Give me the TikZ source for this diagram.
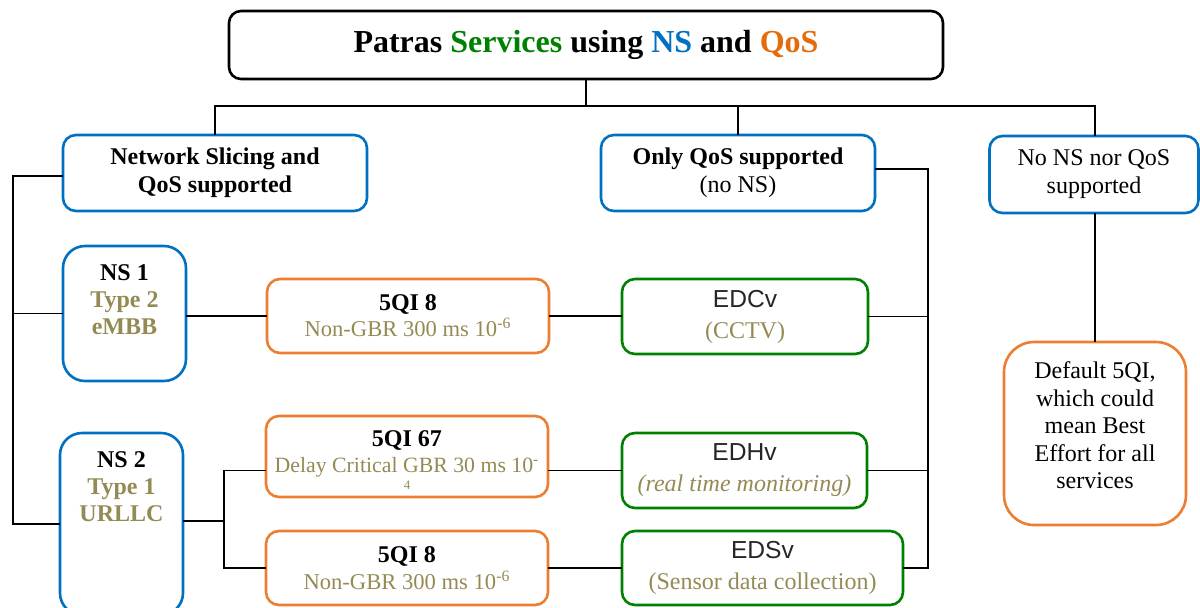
\documentclass[tikz,border=0pt]{standalone}
\usepackage{fontspec}
\setmainfont{Liberation Serif}
\setsansfont{Liberation Sans}
\definecolor{nsblue}{HTML}{0070C0}
\definecolor{qosorange}{HTML}{ED7D31}
\definecolor{qostext}{HTML}{E46C0A}
\definecolor{svcgreen}{HTML}{008000}
\definecolor{olive}{HTML}{948A54}
\definecolor{inkgray}{HTML}{262626}

\newcommand{\edname}[1]{{\sffamily\fontsize{12.3}{14}\selectfont\color{inkgray}#1}}

\begin{document}
\begin{tikzpicture}[x=0.5pt,y=-0.5pt,
  every node/.style={inner sep=0pt, outer sep=0pt},
  box/.style={draw, line width=1.3pt, rounded corners=6.5pt, align=center,
              font=\fontsize{12}{14}\selectfont},
  bluebox/.style={box, draw=nsblue},
  orangebox/.style={box, draw=qosorange},
  greenbox/.style={box, draw=svcgreen, font=\fontsize{12}{15.5}\selectfont},
  sz/.style 2 args={minimum width=#1*0.5pt, minimum height=#2*0.5pt},
  link/.style={draw=black, line width=0.9pt},
  nstext/.style={align=center, font=\fontsize{12}{13.5}\selectfont\bfseries}
]
\useasboundingbox (0,0) rectangle (1200,607);
\clip (0,0) rectangle (1200,607);

% title
\node[box, draw=black, sz={714}{68}, rounded corners=6pt,
      font=\fontsize{16}{20}\selectfont\bfseries] (title) at (586,45)
  {Patras \textcolor{svcgreen}{Services} using \textcolor{nsblue}{NS} and \textcolor{qostext}{QoS}};

% second level
\node[bluebox, sz={304}{76}] (nsqos) at (215,173)
  {\textbf{Network Slicing and}\\\textbf{QoS supported}};
\node[bluebox, sz={274}{76}] (onlyqos) at (738,173)
  {\textbf{Only QoS supported}\\(no NS)};
\node[bluebox, sz={209}{77}] (noqos) at (1094,174.5)
  {No NS nor QoS\\supported};

% network slices
\node[bluebox, sz={123}{135}, rounded corners=11pt] (ns1) at (124.5,313.5) {};
\node[nstext] (ns1txt) at (124.5,300)
  {NS 1\\\textcolor{olive}{Type 2}\\\textcolor{olive}{eMBB}};
\node[bluebox, sz={123}{182}, rounded corners=11pt] (ns2) at (121.5,524) {};
\node[nstext] (ns2txt) at (121.5,487)
  {NS 2\\\textcolor{olive}{Type 1}\\\textcolor{olive}{URLLC}};

% 5QI profiles
\node[orangebox, sz={282}{74}, font=\fontsize{12}{13}\selectfont] (qa) at (408,316)
  {\textbf{5QI 8}\\\fontsize{11.3}{13}\selectfont\textcolor{olive}{Non-GBR 300 ms 10\textsuperscript{-6}}};
\node[orangebox, sz={282}{81}] (qb) at (407,456.5) {};
\node[align=center, font=\fontsize{12}{13}\selectfont] (qbtxt) at (407,460)
  {\textbf{5QI 67}\\\fontsize{10.9}{13}\selectfont\textcolor{olive}{Delay Critical GBR 30 ms 10\textsuperscript{-}}\\[-4.5pt]
   \fontsize{6.5}{7}\selectfont\textcolor{olive}{4}};
\node[orangebox, sz={282}{74}, font=\fontsize{12}{13.5}\selectfont] (qc) at (407,568)
  {\textbf{5QI 8}\\\fontsize{11.3}{13.5}\selectfont\textcolor{olive}{Non-GBR 300 ms 10\textsuperscript{-6}}};

% services
\node[greenbox, sz={246}{75}] (edc) at (745,316.5)
  {\edname{EDCv}\\\textcolor{olive}{(CCTV)}};
\node[greenbox, sz={245}{75}] (edh) at (744.5,470.5)
  {\edname{EDHv}\\\textcolor{olive}{\itshape(real time monitoring)}};
\node[greenbox, sz={281}{74}] (eds) at (762.5,568)
  {\edname{EDSv}\\\textcolor{olive}{(Sensor data collection)}};

% default profile
\node[orangebox, sz={182}{183}, rounded corners=15pt] (def) at (1095,433.5) {};
\node[align=center, font=\fontsize{12}{13.75}\selectfont] (deftxt) at (1095,425.5)
  {Default 5QI,\\which could\\mean Best\\Effort for all\\services};

% top tree
\coordinate (bus) at (586,106);
\draw[link] (title.south) -- (bus);
\draw[link] (nsqos.north) |- (bus) -| (def.north |- noqos.north);
\draw[link] (onlyqos.north) -- (onlyqos.north |- bus);

% left spine
\coordinate (lspine) at (13,176);
\draw[link] (nsqos.west |- lspine) -- (lspine) |- (ns2.west);
\draw[link] (ns1.west) -- (ns1.west -| lspine);

% slice to profile to service
\draw[link] (ns1.east |- qa.west) -- (qa.west);
\draw[link] (qa.east) -- (edc.west |- qa.east);
\coordinate (fork) at (224,521);
\draw[link] (ns2.east |- fork) -- (fork);
\draw[link] (qb.west |- edh.west) -| (fork);
\draw[link] (qc.west) -| (fork);
\draw[link] (qb.east |- edh.west) -- (edh.west);
\draw[link] (qc.east) -- (eds.west);

% right spine
\coordinate (rspine) at (928,169);
\draw[link] (onlyqos.east |- rspine) -- (rspine) |- (eds.east);
\draw[link] (edc.east) -- (edc.east -| rspine);
\draw[link] (edh.east) -- (edh.east -| rspine);

% no NS / no QoS branch
\draw[link] (def.north |- noqos.south) -- (def.north);
\end{tikzpicture}
\end{document}
